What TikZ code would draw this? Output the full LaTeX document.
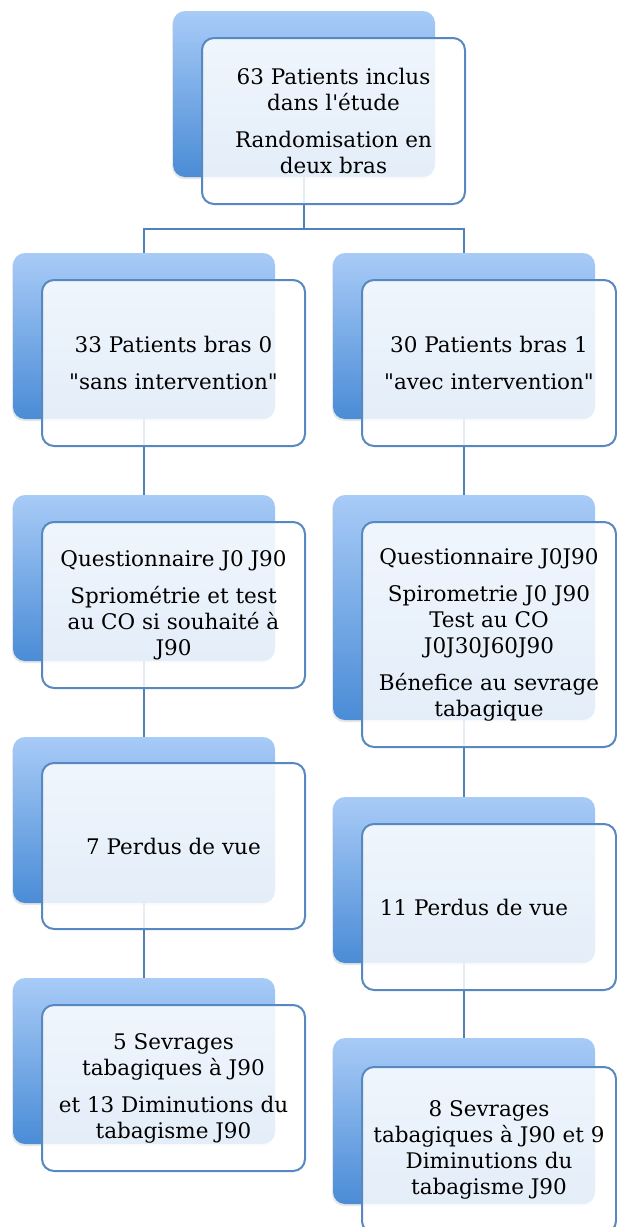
\documentclass[tikz,border=0pt]{standalone}
\usepackage{fontspec}
\setmainfont{DejaVu Serif}
\usetikzlibrary{shadows,backgrounds}
\definecolor{linkblue}{RGB}{79,129,189}
\definecolor{edgeblue}{RGB}{88,136,192}
\definecolor{shadetop}{RGB}{168,203,247}
\definecolor{shadebot}{RGB}{74,140,214}
\def\gap{\\[11pt]}

\begin{document}
\begin{tikzpicture}[x=1pt, y=-1pt,
	shadebox/.style={rectangle, rounded corners=12pt, inner sep=0pt,
		minimum width=262pt, minimum height=166pt,
		top color=shadetop, bottom color=shadebot,
		drop shadow={shadow xshift=-1pt, shadow yshift=-2pt, opacity=0.2}},
	frontbox/.style={rectangle, rounded corners=12pt, inner sep=2pt, align=center,
		minimum width=263pt, minimum height=166pt,
		draw=edgeblue, line width=2pt, fill=white, fill opacity=0.85, text opacity=1,
		font=\fontsize{21.5}{26}\selectfont},
	link/.style={draw=linkblue, line width=2.2pt}]
		%%%%% START %%%%%
		
		\useasboundingbox (0, 0) rectangle (617, 1227);
		
		% top
		\node[shadebox] (s0) at (304, 94) {};
		\node[frontbox] (b0) at (333.5, 121) {63 Patients inclus\\dans l\textquotesingle étude\gap Randomisation en\\deux bras};
		
		% bras 0
		\node[shadebox] (s1) at (144, 336) {};
		\node[frontbox] (b1) at (173.5, 363) {33 Patients bras 0\gap \textquotedbl sans intervention\textquotedbl};
		\node[shadebox] (s3) at (144, 578) {};
		\node[frontbox] (b3) at (173.5, 605) {Questionnaire J0 J90\gap Spriométrie et test\\au CO si souhaité à\\J90};
		\node[shadebox] (s5) at (144, 820) {};
		\node[frontbox] (b5) at (173.5, 846) {7 Perdus de vue};
		\node[shadebox] (s7) at (144, 1061) {};
		\node[frontbox] (b7) at (173.5, 1088) {5 Sevrages\\tabagiques à J90\gap et 13 Diminutions du\\tabagisme J90};
		
		% bras 1
		\node[shadebox] (s2) at (464, 336) {};
		\node[frontbox, minimum width=254pt] (b2) at (489, 363) {30 Patients bras 1\gap \textquotedbl avec intervention\textquotedbl};
		\node[shadebox, minimum height=225pt] (s4) at (464, 607.5) {};
		\node[frontbox, minimum width=254pt, minimum height=225pt] (b4) at (489, 634.5) {Questionnaire J0J90\gap Spirometrie J0 J90\\Test au CO\\J0J30J60J90\gap Bénefice au sevrage\\tabagique};
		\node[shadebox] (s6) at (464, 880) {};
		\node[frontbox, minimum width=254pt] (b6) at (489, 907) {\hspace{-30pt}11 Perdus de vue};
		\node[shadebox] (s8) at (464, 1121) {};
		\node[frontbox, minimum width=254pt] (b8) at (489, 1150) {8 Sevrages\\tabagiques à J90 et 9\\Diminutions du\\tabagisme J90};
		
		% connectors, behind the boxes
		\begin{scope}[on background layer]
			\coordinate (fork) at (304, 229);
			\draw[link] (s0.center) -- (fork);
			\draw[link] (fork) -| (s1.center);
			\draw[link] (fork) -| (s2.center);
			\draw[link] (s1.center) -- (s3.center) -- (s5.center) -- (s7.center);
			\draw[link] (s2.center) -- (s4.center) -- (s6.center) -- (s8.center);
		\end{scope}
		
		%%%%% END %%%%%
	\end{tikzpicture}
\end{document}
